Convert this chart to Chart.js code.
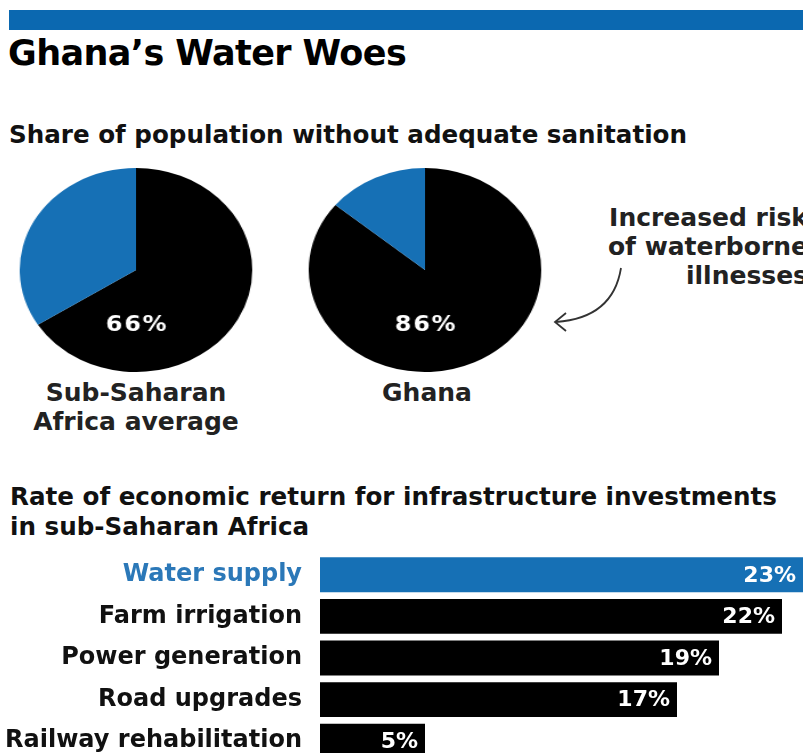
<!DOCTYPE html>
<html lang="en">

<head>
    <meta charset="UTF-8">
    <title>Ghana's Water Woes</title>
    <script src="https://cdn.jsdelivr.net/npm/chart.js"></script>
    <style>
        html, body { margin: 0; padding: 0; background: #fff; }
        body { width: 803px; height: 753px; overflow: hidden; position: relative;
               font-family: "DejaVu Sans", sans-serif; font-weight: bold; color: #111; }
        .abs { position: absolute; white-space: nowrap; }
        .topbar { left: 9px; top: 10px; width: 794px; height: 20px; background: #0b68b0; }
        .title { left: 8px; top: 33px; font-size: 35px; letter-spacing: -0.6px; color: #000; }
        .subtitle { left: 9px; top: 120px; font-size: 24.6px; }
        .pie { top: 168px; width: 204px; height: 204px; transform: scaleX(1.14); }
        .pie-label { font-size: 25px; text-align: center; line-height: 29px; color: #222; }
        .note { right: -5px; top: 203px; font-size: 25px; text-align: right; line-height: 29px; color: #222; }
        .title2 { left: 10px; top: 482px; font-size: 24.6px; line-height: 30px; }
        .bars { left: 0; top: 554px; }
    </style>
</head>

<body>

    <div class="abs topbar"></div>
    <div class="abs title">Ghana’s Water Woes</div>

    <!-- sanitation pies -->
    <div class="abs subtitle">Share of population without adequate sanitation</div>
    <div class="abs pie" style="left: 34px;"><canvas id="pieAfrica" width="204" height="204"></canvas></div>
    <div class="abs pie" style="left: 323px;"><canvas id="pieGhana" width="204" height="204"></canvas></div>
    <div class="abs pie-label" style="left: 16px; width: 240px; top: 378px;">Sub-Saharan<br>Africa average</div>
    <div class="abs pie-label" style="left: 307px; width: 240px; top: 378px;">Ghana</div>

    <div class="abs note">Increased risk<br>of waterborne<br>illnesses</div>
    <svg class="abs" style="left: 0; top: 0;" width="803" height="400">
        <path d="M 621 268 Q 613 318 556 322" fill="none" stroke="#333" stroke-width="1.8" />
        <path d="M 566 313 L 555 322 L 566 331" fill="none" stroke="#333" stroke-width="1.8" />
    </svg>

    <!-- returns bars -->
    <div class="abs title2">Rate of economic return for infrastructure investments<br>in sub-Saharan Africa</div>
    <div class="abs bars"><canvas id="returnsChart" width="803" height="208"></canvas></div>

    <script>
        const pieLabels = ["Without sanitation", "With sanitation"];
        const africaShare = [66, 34];
        const ghanaShare = [86, 14];

        const sectors = ["Water supply", "Farm irrigation", "Power generation", "Road upgrades", "Railway rehabilitation"];
        const returns = [23, 22, 19, 17, 5];

        const BLUE = "#1670b5";
        const BLACK = "#000000";
        const FONT = "'DejaVu Sans', sans-serif";

        // white percent inside the black slice
        const pieValue = {
            id: "pieValue",
            afterDatasetsDraw(chart) {
                const arc = chart.getDatasetMeta(0).data[0];
                const v = chart.data.datasets[0].data[0];
                const c = chart.ctx;
                c.save();
                c.fillStyle = "#fff";
                c.font = "bold 21px " + FONT;
                c.letterSpacing = "1.5px";
                c.textAlign = "center";
                c.textBaseline = "middle";
                c.fillText(v + "%", arc.x + 1, arc.y + arc.outerRadius * 0.54);
                c.restore();
            }
        };

        function makePie(id, values) {
            new Chart(document.getElementById(id), {
                type: "pie",
                data: {
                    labels: pieLabels,
                    datasets: [{ data: values, backgroundColor: [BLACK, BLUE], borderWidth: 0 }]
                },
                options: {
                    responsive: false,
                    animation: false,
                    events: [],
                    plugins: { legend: { display: false }, tooltip: { enabled: false } }
                },
                plugins: [pieValue]
            });
        }

        makePie("pieAfrica", africaShare);
        makePie("pieGhana", ghanaShare);

        // value labels at the end of each bar
        const barValue = {
            id: "barValue",
            afterDatasetsDraw(chart) {
                const c = chart.ctx;
                const vals = chart.data.datasets[0].data;
                c.save();
                c.fillStyle = "#fff";
                c.font = "bold 22px " + FONT;
                c.textAlign = "right";
                c.textBaseline = "middle";
                chart.getDatasetMeta(0).data.forEach((bar, i) => {
                    c.fillText(vals[i] + "%", bar.x - 7, bar.y + 1);
                });
                c.restore();
            }
        };

        new Chart(document.getElementById("returnsChart"), {
            type: "bar",
            data: {
                labels: sectors,
                datasets: [{
                    data: returns,
                    backgroundColor: sectors.map((s, i) => i === 0 ? BLUE : BLACK),
                    barPercentage: 0.84,
                    categoryPercentage: 1
                }]
            },
            options: {
                indexAxis: "y",
                responsive: false,
                animation: false,
                events: [],
                layout: { padding: 0 },
                scales: {
                    x: { display: false, min: 0, max: 23 },
                    y: {
                        grid: { display: false },
                        border: { display: false },
                        ticks: {
                            padding: 10,
                            autoSkip: false,
                            font: { family: FONT, size: 24, weight: "bold" },
                            color: ctx => ctx.index === 0 ? "#2b78b8" : "#111"
                        },
                        // fixed label column, rows use the full canvas height
                        afterFit(scale) {
                            scale.width = 320;
                            scale.paddingTop = 0;
                            scale.paddingBottom = 0;
                        }
                    }
                },
                plugins: { legend: { display: false }, tooltip: { enabled: false } }
            },
            plugins: [barValue]
        });
    </script>

</body>

</html>
